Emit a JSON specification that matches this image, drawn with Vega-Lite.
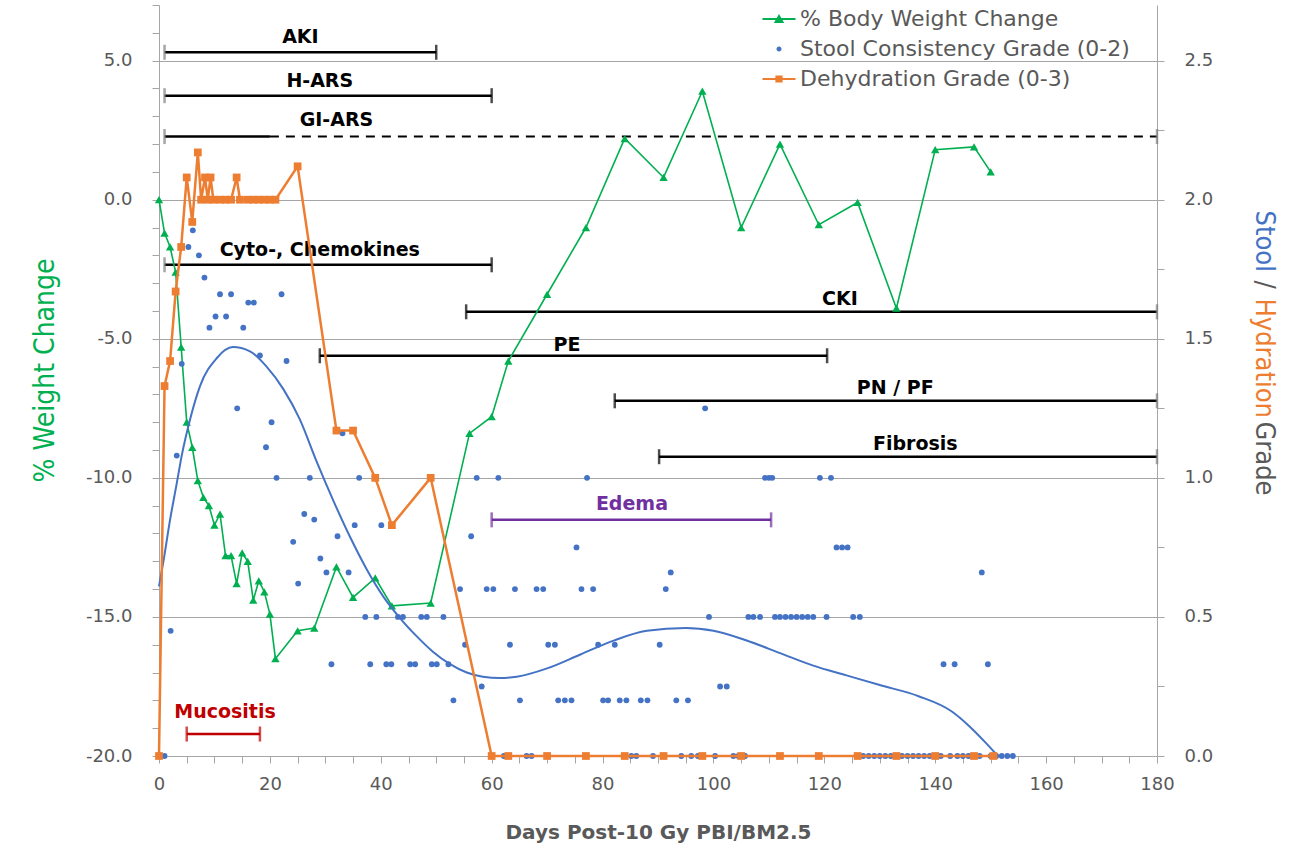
{
  "$schema": "https://vega.github.io/schema/vega-lite/v6.json",
  "width": 998,
  "height": 751,
  "autosize": {"type": "none"},
  "padding": {"left": 159, "top": 5, "right": 132, "bottom": 93},
  "background": "white",
  "config": {
    "view": {"stroke": null},
    "axis": {
      "domainColor": "#A6A6A6",
      "tickColor": "#A6A6A6",
      "gridColor": "#A6A6A6",
      "labelColor": "#595959",
      "labelFont": "DejaVu Sans",
      "labelFontSize": 18,
      "labelOverlap": false,
      "labelFlush": false,
      "tickSize": 7
    }
  },
  "datasets": {
    "weight": [
      {"day": 0, "change": 0.0}, {"day": 1, "change": -1.2}, {"day": 2, "change": -1.7}, {"day": 3, "change": -2.6},
      {"day": 4, "change": -5.3}, {"day": 5, "change": -8.0}, {"day": 6, "change": -8.9}, {"day": 7, "change": -10.1},
      {"day": 8, "change": -10.7}, {"day": 9, "change": -11.0}, {"day": 10, "change": -11.7}, {"day": 11, "change": -11.3},
      {"day": 12, "change": -12.8}, {"day": 13, "change": -12.8}, {"day": 14, "change": -13.8}, {"day": 15, "change": -12.7},
      {"day": 16, "change": -13.0}, {"day": 17, "change": -14.4}, {"day": 18, "change": -13.7}, {"day": 19, "change": -14.1},
      {"day": 20, "change": -14.9}, {"day": 21, "change": -16.5}, {"day": 25, "change": -15.5}, {"day": 28, "change": -15.4},
      {"day": 32, "change": -13.2}, {"day": 35, "change": -14.3}, {"day": 39, "change": -13.6}, {"day": 42, "change": -14.6},
      {"day": 49, "change": -14.5}, {"day": 56, "change": -8.4}, {"day": 60, "change": -7.8}, {"day": 63, "change": -5.8},
      {"day": 70, "change": -3.4}, {"day": 77, "change": -1.0}, {"day": 84, "change": 2.2}, {"day": 91, "change": 0.8},
      {"day": 98, "change": 3.9}, {"day": 105, "change": -1.0}, {"day": 112, "change": 2.0}, {"day": 119, "change": -0.9},
      {"day": 126, "change": -0.1}, {"day": 133, "change": -3.9}, {"day": 140, "change": 1.8}, {"day": 147, "change": 1.9},
      {"day": 150, "change": 1.0}
    ],
    "stool": [
      {"day": 0, "grade": 0}, {"day": 1, "grade": 0}, {"day": 2.1, "grade": 0.45}, {"day": 3.2, "grade": 1.08},
      {"day": 4.1, "grade": 1.41}, {"day": 5.3, "grade": 1.83}, {"day": 6.1, "grade": 1.89}, {"day": 7.2, "grade": 1.8},
      {"day": 8.2, "grade": 1.72}, {"day": 9.1, "grade": 1.54}, {"day": 10.2, "grade": 1.58}, {"day": 11, "grade": 1.66},
      {"day": 12.1, "grade": 1.58}, {"day": 13, "grade": 1.66}, {"day": 14.1, "grade": 1.25}, {"day": 15.2, "grade": 1.54},
      {"day": 16.1, "grade": 1.63}, {"day": 17.1, "grade": 1.63}, {"day": 18.2, "grade": 1.44}, {"day": 19.3, "grade": 1.11},
      {"day": 20.3, "grade": 1.2}, {"day": 21.2, "grade": 1.0}, {"day": 22.1, "grade": 1.66}, {"day": 23, "grade": 1.42},
      {"day": 24.2, "grade": 0.77}, {"day": 25.1, "grade": 0.62}, {"day": 26.2, "grade": 0.87}, {"day": 27.2, "grade": 1.0},
      {"day": 28, "grade": 0.85}, {"day": 29.1, "grade": 0.71}, {"day": 30.2, "grade": 0.66}, {"day": 31.1, "grade": 0.33},
      {"day": 32.2, "grade": 0.79}, {"day": 33.1, "grade": 1.16}, {"day": 34.2, "grade": 0.66}, {"day": 35.3, "grade": 0.83},
      {"day": 36.1, "grade": 1.0}, {"day": 37.2, "grade": 0.5}, {"day": 38.1, "grade": 0.33}, {"day": 39.2, "grade": 0.5},
      {"day": 40.1, "grade": 0.83}, {"day": 41, "grade": 0.33}, {"day": 41.9, "grade": 0.33}, {"day": 43.1, "grade": 0.5},
      {"day": 44, "grade": 0.5}, {"day": 45.3, "grade": 0.33}, {"day": 46.2, "grade": 0.33}, {"day": 47.3, "grade": 0.5},
      {"day": 48.3, "grade": 0.5}, {"day": 49.2, "grade": 0.33}, {"day": 50.1, "grade": 0.33}, {"day": 51.3, "grade": 0.5},
      {"day": 52.2, "grade": 0.33}, {"day": 53.1, "grade": 0.2}, {"day": 54.3, "grade": 0.6}, {"day": 55.2, "grade": 0.4},
      {"day": 56.3, "grade": 0.79}, {"day": 57.3, "grade": 1.0}, {"day": 58.2, "grade": 0.25}, {"day": 59.1, "grade": 0.6},
      {"day": 60.3, "grade": 0.6}, {"day": 61.2, "grade": 1.0}, {"day": 62.2, "grade": 0}, {"day": 63.3, "grade": 0.4},
      {"day": 64.2, "grade": 0.6}, {"day": 65.1, "grade": 0.2}, {"day": 66.3, "grade": 0}, {"day": 67.2, "grade": 0},
      {"day": 68.1, "grade": 0.6}, {"day": 69.3, "grade": 0.6}, {"day": 70.2, "grade": 0.4}, {"day": 71.4, "grade": 0.4},
      {"day": 72, "grade": 0.2}, {"day": 73.2, "grade": 0.2}, {"day": 74.4, "grade": 0.2}, {"day": 75.3, "grade": 0.75},
      {"day": 76.2, "grade": 0.6}, {"day": 77.2, "grade": 1.0}, {"day": 78.3, "grade": 0.6}, {"day": 79.2, "grade": 0.4},
      {"day": 80.1, "grade": 0.2}, {"day": 81, "grade": 0.2}, {"day": 82.2, "grade": 0.4}, {"day": 83.1, "grade": 0.2},
      {"day": 84.3, "grade": 0.2}, {"day": 85.2, "grade": 0}, {"day": 86.1, "grade": 0}, {"day": 86.9, "grade": 0.2},
      {"day": 88.1, "grade": 0.2}, {"day": 89.1, "grade": 0}, {"day": 90.3, "grade": 0.4}, {"day": 91.4, "grade": 0.6},
      {"day": 92.3, "grade": 0.66}, {"day": 93.3, "grade": 0.2}, {"day": 94.2, "grade": 0}, {"day": 95.4, "grade": 0.2},
      {"day": 96, "grade": 0}, {"day": 97.2, "grade": 0}, {"day": 98.5, "grade": 1.25}, {"day": 99.2, "grade": 0.5},
      {"day": 100.3, "grade": 0}, {"day": 101.2, "grade": 0.25}, {"day": 102.4, "grade": 0.25}, {"day": 103.6, "grade": 0},
      {"day": 104.5, "grade": 0}, {"day": 105.7, "grade": 0}, {"day": 106.3, "grade": 0.5}, {"day": 107.2, "grade": 0.5},
      {"day": 108.4, "grade": 0.5}, {"day": 109.3, "grade": 1.0}, {"day": 110, "grade": 1.0}, {"day": 110.6, "grade": 1.0},
      {"day": 111.1, "grade": 0.5}, {"day": 112, "grade": 0.5}, {"day": 113, "grade": 0.5}, {"day": 114, "grade": 0.5},
      {"day": 115, "grade": 0.5}, {"day": 116, "grade": 0.5}, {"day": 117, "grade": 0.5}, {"day": 118, "grade": 0.5},
      {"day": 119.2, "grade": 1.0}, {"day": 120.4, "grade": 0.5}, {"day": 121.2, "grade": 1.0}, {"day": 122.2, "grade": 0.75},
      {"day": 123.2, "grade": 0.75}, {"day": 124.2, "grade": 0.75}, {"day": 125.2, "grade": 0.5}, {"day": 126.4, "grade": 0.5},
      {"day": 127, "grade": 0}, {"day": 128, "grade": 0}, {"day": 129, "grade": 0}, {"day": 130, "grade": 0},
      {"day": 131, "grade": 0}, {"day": 132, "grade": 0}, {"day": 133, "grade": 0}, {"day": 134, "grade": 0},
      {"day": 135, "grade": 0}, {"day": 136, "grade": 0}, {"day": 137, "grade": 0}, {"day": 138, "grade": 0},
      {"day": 139, "grade": 0}, {"day": 140, "grade": 0}, {"day": 141, "grade": 0}, {"day": 141.5, "grade": 0.33},
      {"day": 142.7, "grade": 0}, {"day": 143.5, "grade": 0.33}, {"day": 144, "grade": 0}, {"day": 145, "grade": 0},
      {"day": 146, "grade": 0}, {"day": 147, "grade": 0}, {"day": 148, "grade": 0}, {"day": 148.4, "grade": 0.66},
      {"day": 149.5, "grade": 0.33}, {"day": 150, "grade": 0}, {"day": 151, "grade": 0}, {"day": 152, "grade": 0},
      {"day": 153, "grade": 0}, {"day": 154, "grade": 0}
    ],
    "trend": [
      {"day": 0, "grade": 0.61}, {"day": 0.8, "grade": 0.7}, {"day": 2, "grade": 0.85}, {"day": 3.2, "grade": 0.98},
      {"day": 4.1, "grade": 1.08}, {"day": 5.6, "grade": 1.21}, {"day": 7.4, "grade": 1.33}, {"day": 10.4, "grade": 1.43},
      {"day": 13.3, "grade": 1.47}, {"day": 16.4, "grade": 1.455}, {"day": 19.4, "grade": 1.4}, {"day": 22.4, "grade": 1.32},
      {"day": 25.4, "grade": 1.21}, {"day": 28.4, "grade": 1.06}, {"day": 31.4, "grade": 0.92}, {"day": 34.4, "grade": 0.79},
      {"day": 37.5, "grade": 0.67}, {"day": 40.4, "grade": 0.575}, {"day": 43.5, "grade": 0.495}, {"day": 46.5, "grade": 0.43},
      {"day": 49.4, "grade": 0.375}, {"day": 52.5, "grade": 0.33}, {"day": 55.5, "grade": 0.3}, {"day": 58.4, "grade": 0.285},
      {"day": 61.5, "grade": 0.28}, {"day": 64.5, "grade": 0.285}, {"day": 70, "grade": 0.315}, {"day": 76, "grade": 0.365},
      {"day": 82, "grade": 0.415}, {"day": 88, "grade": 0.45}, {"day": 95, "grade": 0.46}, {"day": 100, "grade": 0.45},
      {"day": 106, "grade": 0.415}, {"day": 112, "grade": 0.37}, {"day": 118, "grade": 0.325}, {"day": 124, "grade": 0.29},
      {"day": 130, "grade": 0.255}, {"day": 137, "grade": 0.215}, {"day": 143, "grade": 0.16}, {"day": 146, "grade": 0.11},
      {"day": 149, "grade": 0.05}, {"day": 151.3, "grade": 0}
    ],
    "dehydration": [
      {"day": 0, "grade": 0}, {"day": 1, "grade": 1.33}, {"day": 2, "grade": 1.42}, {"day": 3, "grade": 1.67},
      {"day": 4, "grade": 1.83}, {"day": 5, "grade": 2.08}, {"day": 6, "grade": 1.92}, {"day": 7, "grade": 2.17},
      {"day": 7.6, "grade": 2.0}, {"day": 8.3, "grade": 2.08}, {"day": 8.8, "grade": 2.0}, {"day": 9.3, "grade": 2.08},
      {"day": 9.8, "grade": 2.0}, {"day": 11, "grade": 2.0}, {"day": 12, "grade": 2.0}, {"day": 13, "grade": 2.0},
      {"day": 14, "grade": 2.08}, {"day": 14.6, "grade": 2.0}, {"day": 16, "grade": 2.0}, {"day": 17, "grade": 2.0},
      {"day": 18, "grade": 2.0}, {"day": 19, "grade": 2.0}, {"day": 20, "grade": 2.0}, {"day": 21, "grade": 2.0},
      {"day": 25, "grade": 2.12}, {"day": 32, "grade": 1.17}, {"day": 35, "grade": 1.17}, {"day": 39, "grade": 1.0},
      {"day": 42, "grade": 0.83}, {"day": 49, "grade": 1.0}, {"day": 60, "grade": 0}, {"day": 63, "grade": 0},
      {"day": 70, "grade": 0}, {"day": 77, "grade": 0}, {"day": 84, "grade": 0}, {"day": 91, "grade": 0},
      {"day": 98, "grade": 0}, {"day": 105, "grade": 0}, {"day": 112, "grade": 0}, {"day": 119, "grade": 0},
      {"day": 126, "grade": 0}, {"day": 133, "grade": 0}, {"day": 140, "grade": 0}, {"day": 147, "grade": 0},
      {"day": 150.5, "grade": 0}
    ],
    "phases": [
      {"label": "AKI", "start": 1, "end": 50, "solid_end": 50, "level": 5.3, "label_day": 25.5, "label_level": 5.85, "kind": "phase"},
      {"label": "H-ARS", "start": 1, "end": 60, "solid_end": 60, "level": 3.74, "label_day": 29, "label_level": 4.26, "kind": "phase"},
      {"label": "GI-ARS", "start": 1, "end": 180, "solid_end": 20, "level": 2.27, "label_day": 32, "label_level": 2.88, "kind": "phase"},
      {"label": "Cyto-, Chemokines", "start": 1, "end": 60, "solid_end": 60, "level": -2.34, "label_day": 29, "label_level": -1.8, "kind": "phase"},
      {"label": "CKI", "start": 55.4, "end": 180, "solid_end": 180, "level": -4.03, "label_day": 122.8, "label_level": -3.56, "kind": "phase"},
      {"label": "PE", "start": 29, "end": 120.5, "solid_end": 120.5, "level": -5.61, "label_day": 73.6, "label_level": -5.22, "kind": "phase"},
      {"label": "PN / PF", "start": 82.2, "end": 180, "solid_end": 180, "level": -7.23, "label_day": 132.8, "label_level": -6.78, "kind": "phase"},
      {"label": "Fibrosis", "start": 90.2, "end": 180, "solid_end": 180, "level": -9.24, "label_day": 136.4, "label_level": -8.78, "kind": "phase"},
      {"label": "Edema", "start": 60, "end": 110.4, "solid_end": 110.4, "level": -11.51, "label_day": 85.3, "label_level": -10.94, "kind": "edema"},
      {"label": "Mucositis", "start": 5, "end": 18.2, "solid_end": 18.2, "level": -19.21, "label_day": 11.9, "label_level": -18.42, "kind": "mucositis"}
    ],
    "series": [
      {"series": "% Body Weight Change"},
      {"series": "Stool Consistency Grade (0-2)"},
      {"series": "Dehydration Grade (0-3)"}
    ]
  },
  "resolve": {"scale": {"y": "independent"}, "axis": {"x": "independent"}},
  "layer": [
    {
      "resolve": {"axis": {"x": "independent", "y": "independent"}},
      "layer": [
        {
          "data": {"name": "phases"},
          "mark": {"type": "rule", "strokeWidth": 2.5},
          "encoding": {
            "x": {"field": "start", "type": "quantitative", "scale": {"domain": [0, 180], "nice": false, "zero": false}, "axis": null},
            "x2": {"field": "solid_end"},
            "y": {"field": "level", "type": "quantitative", "scale": {"domain": [-20, 7], "nice": false, "zero": false}, "axis": null},
            "stroke": {"field": "kind", "type": "nominal", "scale": {"domain": ["phase", "edema", "mucositis"], "range": ["#000000", "#7030A0", "#C00000"]}, "legend": null}
          }
        },
        {
          "data": {"name": "phases"},
          "mark": {"type": "rule", "strokeWidth": 2, "strokeDash": [9, 7]},
          "encoding": {
            "x": {"field": "solid_end", "type": "quantitative", "scale": {"domain": [0, 180], "nice": false, "zero": false}, "axis": null},
            "x2": {"field": "end"},
            "y": {"field": "level", "type": "quantitative", "scale": {"domain": [-20, 7], "nice": false, "zero": false}, "axis": null},
            "stroke": {"field": "kind", "type": "nominal", "scale": {"domain": ["phase", "edema", "mucositis"], "range": ["#000000", "#7030A0", "#C00000"]}, "legend": null}
          }
        },
        {
          "data": {"name": "phases"},
          "transform": [{"fold": ["start", "end"], "as": ["side", "edge"]}],
          "mark": {"type": "tick", "orient": "vertical", "thickness": 2.5, "size": 15},
          "encoding": {
            "x": {"field": "edge", "type": "quantitative", "scale": {"domain": [0, 180], "nice": false, "zero": false}, "axis": null},
            "y": {"field": "level", "type": "quantitative", "scale": {"domain": [-20, 7], "nice": false, "zero": false}, "axis": null},
            "fill": {
              "condition": {"test": "datum.edge <= 1 || datum.edge >= 180", "value": "#7F7F7F"},
              "field": "kind", "type": "nominal",
              "scale": {"domain": ["phase", "edema", "mucositis"], "range": ["#000000", "#7030A0", "#C00000"]},
              "legend": null
            }
          }
        },
        {
          "data": {"name": "phases"},
          "mark": {"type": "text", "font": "DejaVu Sans", "fontSize": 19, "fontWeight": "bold", "align": "center", "baseline": "middle"},
          "encoding": {
            "x": {"field": "label_day", "type": "quantitative", "scale": {"domain": [0, 180], "nice": false, "zero": false}, "axis": null},
            "y": {"field": "label_level", "type": "quantitative", "scale": {"domain": [-20, 7], "nice": false, "zero": false}, "axis": null},
            "text": {"field": "label"},
            "fill": {"field": "kind", "type": "nominal", "scale": {"domain": ["phase", "edema", "mucositis"], "range": ["#000000", "#7030A0", "#C00000"]}, "legend": null}
          }
        },
        {
          "data": {"name": "weight"},
          "mark": {"type": "line", "color": "#00B050", "strokeWidth": 1.6},
          "encoding": {
            "x": {
              "field": "day", "type": "quantitative",
              "scale": {"domain": [0, 180], "nice": false, "zero": false},
              "axis": {
                "orient": "bottom",
                "values": [0, 20, 40, 60, 80, 100, 120, 140, 160, 180],
                "grid": false,
                "tickSize": 7,
                "labelPadding": 12,
                "labelOverlap": false,
                "labelFlush": false,
                "title": "Days Post-10 Gy PBI/BM2.5",
                "titleFont": "DejaVu Sans",
                "titleFontSize": 20,
                "titleFontWeight": "bold",
                "titleColor": "#595959",
                "titleY": 76,
                "titleBaseline": "middle"
              }
            },
            "y": {
              "field": "change", "type": "quantitative",
              "scale": {"domain": [-20, 7], "nice": false, "zero": false},
              "axis": {
                "orient": "left",
                "values": [-20, -15, -10, -5, 0, 5],
                "labelExpr": "datum.value + '.0'",
                "labelOverlap": false,
                "labelFlush": false,
                "grid": true,
                "tickSize": 7,
                "labelPadding": 20,
                "title": "% Weight Change",
                "titleColor": "#00B050",
                "titleFont": "Liberation Sans Narrow, DejaVu Sans Condensed, Liberation Sans, sans-serif",
                "titleFontSize": 28,
                "titleFontWeight": "normal",
                "titleAngle": -90,
                "titleX": -114,
                "titleY": 365,
                "titleAlign": "center",
                "titleBaseline": "middle"
              }
            }
          }
        },
        {
          "data": {"name": "weight"},
          "mark": {"type": "point", "shape": "triangle-up", "filled": true, "color": "#00B050", "size": 70, "opacity": 1},
          "encoding": {
            "x": {
              "field": "day", "type": "quantitative",
              "scale": {"domain": [0, 180], "nice": false, "zero": false},
              "axis": {
                "orient": "bottom",
                "values": [5,10,15,25,30,35,45,50,55,65,70,75,85,90,95,105,110,115,125,130,135,145,150,155,165,170,175],
                "labels": false, "domain": false, "grid": false, "tickSize": 7, "title": null
              }
            },
            "y": {
              "field": "change", "type": "quantitative",
              "scale": {"domain": [-20, 7], "nice": false, "zero": false},
              "axis": {
                "orient": "left",
                "values": [-19,-18,-17,-16,-14,-13,-12,-11,-9,-8,-7,-6,-4,-3,-2,-1,1,2,3,4,6,7],
                "labels": false, "domain": false, "grid": false, "tickSize": 7, "title": null
              }
            }
          }
        },
        {
          "data": {"name": "series"},
          "mark": {"type": "point", "filled": true, "opacity": 0},
          "encoding": {
            "color": {
              "field": "series", "type": "nominal",
              "scale": {"domain": ["% Body Weight Change", "Stool Consistency Grade (0-2)", "Dehydration Grade (0-3)"], "range": ["#00B050", "#4472C4", "#ED7D31"]},
              "legend": {
                "title": null, "orient": "none", "legendX": 609, "legendY": 3,
                "labelFont": "DejaVu Sans", "labelFontSize": 22, "labelColor": "#595959", "labelLimit": 500,
                "symbolSize": 400, "labelOffset": 10, "rowPadding": 8, "padding": 0,
                "symbolStrokeWidth": 0, "symbolOpacity": 1
              }
            },
            "shape": {
              "field": "series", "type": "nominal",
              "scale": {
                "domain": ["% Body Weight Change", "Stool Consistency Grade (0-2)", "Dehydration Grade (0-3)"],
                "range": [
                  "M-1.65,-0.09H1.65V0.09H-1.65Z M0,-0.5L0.52,0.4H-0.52Z",
                  "M-0.25,0A0.25,0.25,0,1,0,0.25,0A0.25,0.25,0,1,0,-0.25,0Z",
                  "M-1.65,-0.09H1.65V0.09H-1.65Z M-0.36,-0.36H0.36V0.36H-0.36Z"
                ]
              },
              "legend": {
                "title": null, "orient": "none", "legendX": 609, "legendY": 3,
                "labelFont": "DejaVu Sans", "labelFontSize": 22, "labelColor": "#595959", "labelLimit": 500,
                "symbolSize": 400, "labelOffset": 10, "rowPadding": 8, "padding": 0,
                "symbolStrokeWidth": 0, "symbolOpacity": 1
              }
            }
          }
        }
      ]
    },
    {
      "data": {"name": "stool"},
      "mark": {"type": "point", "shape": "circle", "filled": true, "color": "#4472C4", "size": 34, "opacity": 1},
      "encoding": {
        "x": {"field": "day", "type": "quantitative", "scale": {"domain": [0, 180], "nice": false, "zero": false}, "axis": null},
        "y": {
          "field": "grade", "type": "quantitative",
          "scale": {"domain": [0, 2.7], "nice": false, "zero": false},
          "axis": {
            "orient": "right",
            "values": [0, 0.25, 0.5, 0.75, 1, 1.25, 1.5, 1.75, 2, 2.25, 2.5],
            "labelExpr": "round(datum.value * 4) % 2 === 0 ? format(datum.value, '.1f') : ''",
            "labelOverlap": false,
            "labelFlush": false,
            "grid": false,
            "tickSize": 7,
            "labelPadding": 20,
            "title": "Stool",
            "titleColor": "#4472C4",
            "titleFont": "Liberation Sans Narrow, DejaVu Sans Condensed, Liberation Sans, sans-serif",
            "titleFontSize": 27,
            "titleFontWeight": "normal",
            "titleAngle": 90,
            "titleX": 106,
            "titleY": 205,
            "titleAlign": "left",
            "titleBaseline": "middle"
          }
        }
      }
    },
    {
      "data": {"name": "trend"},
      "mark": {"type": "line", "color": "#4472C4", "strokeWidth": 2, "interpolate": "monotone"},
      "encoding": {
        "x": {"field": "day", "type": "quantitative", "scale": {"domain": [0, 180], "nice": false, "zero": false}, "axis": null},
        "y": {
          "field": "grade", "type": "quantitative",
          "scale": {"domain": [0, 2.7], "nice": false, "zero": false},
          "axis": {
            "orient": "right", "labels": false, "ticks": false, "domain": false, "grid": false,
            "title": "/",
            "titleColor": "#595959",
            "titleFont": "Liberation Sans Narrow, DejaVu Sans Condensed, Liberation Sans, sans-serif",
            "titleFontSize": 27,
            "titleFontWeight": "normal",
            "titleAngle": 90,
            "titleX": 106,
            "titleY": 275,
            "titleAlign": "left",
            "titleBaseline": "middle"
          }
        }
      }
    },
    {
      "data": {"name": "dehydration"},
      "mark": {"type": "line", "color": "#ED7D31", "strokeWidth": 2.5},
      "encoding": {
        "x": {"field": "day", "type": "quantitative", "scale": {"domain": [0, 180], "nice": false, "zero": false}, "axis": null},
        "y": {
          "field": "grade", "type": "quantitative",
          "scale": {"domain": [0, 2.7], "nice": false, "zero": false},
          "axis": {
            "orient": "right", "labels": false, "ticks": false, "domain": false, "grid": false,
            "title": "Hydration",
            "titleColor": "#ED7D31",
            "titleFont": "Liberation Sans Narrow, DejaVu Sans Condensed, Liberation Sans, sans-serif",
            "titleFontSize": 27,
            "titleFontWeight": "normal",
            "titleAngle": 90,
            "titleX": 106,
            "titleY": 293,
            "titleAlign": "left",
            "titleBaseline": "middle"
          }
        }
      }
    },
    {
      "data": {"name": "dehydration"},
      "mark": {"type": "point", "shape": "square", "filled": true, "color": "#ED7D31", "size": 60, "opacity": 1},
      "encoding": {
        "x": {"field": "day", "type": "quantitative", "scale": {"domain": [0, 180], "nice": false, "zero": false}, "axis": null},
        "y": {
          "field": "grade", "type": "quantitative",
          "scale": {"domain": [0, 2.7], "nice": false, "zero": false},
          "axis": {
            "orient": "right", "labels": false, "ticks": false, "domain": false, "grid": false,
            "title": "Grade",
            "titleColor": "#595959",
            "titleFont": "Liberation Sans Narrow, DejaVu Sans Condensed, Liberation Sans, sans-serif",
            "titleFontSize": 27,
            "titleFontWeight": "normal",
            "titleAngle": 90,
            "titleX": 106,
            "titleY": 416,
            "titleAlign": "left",
            "titleBaseline": "middle"
          }
        }
      }
    }
  ]
}
